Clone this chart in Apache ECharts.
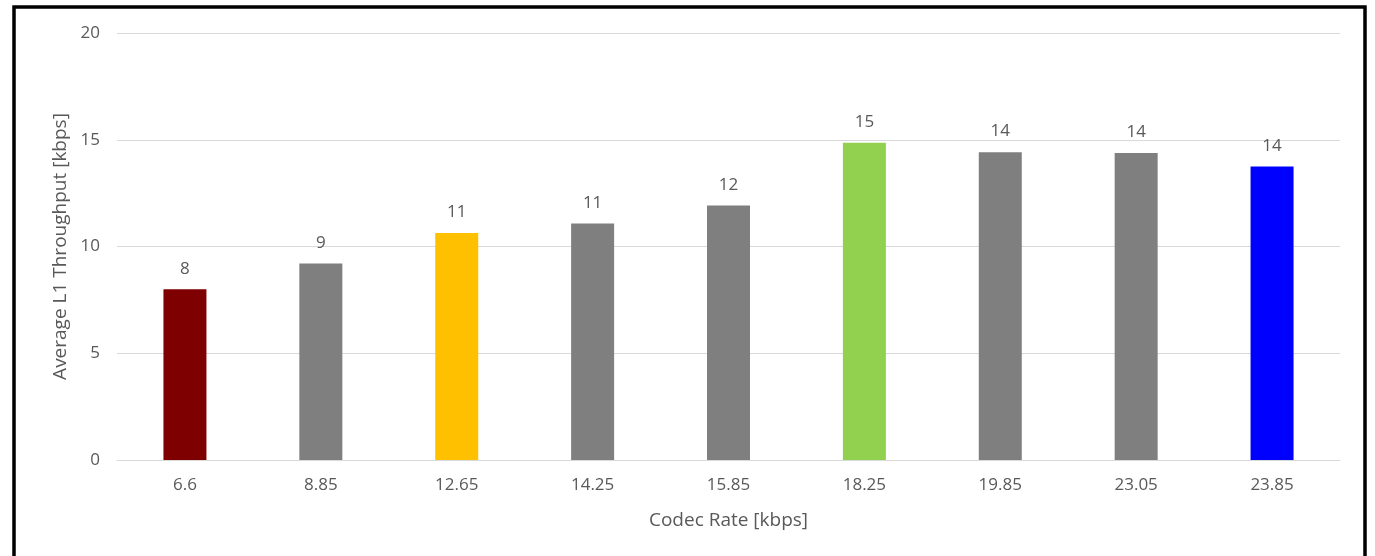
<!DOCTYPE html>
<html>
<head>
<meta charset="utf-8">
<style>
html,body{margin:0;padding:0;background:#fff;}
#chart{width:1375px;height:556px;}
</style>
<script src="https://cdn.jsdelivr.net/npm/echarts@6/dist/echarts.min.js"></script>
</head>
<body>
<div id="chart"></div>
<script>
const categories = ['6.6', '8.85', '12.65', '14.25', '15.85', '18.25', '19.85', '23.05', '23.85'];
const throughput = [8.0, 9.2, 10.63, 11.08, 11.92, 14.86, 14.42, 14.38, 13.75];
const barColors = ['#7F0000', '#7F7F7F', '#FFC000', '#7F7F7F', '#7F7F7F', '#92D050', '#7F7F7F', '#7F7F7F', '#0000FF'];
const yTicks = [0, 5, 10, 15, 20];

const chart = echarts.init(document.getElementById('chart'), null, {renderer: 'canvas'});
const font = '"Open Sans", "Noto Sans", sans-serif';
chart.setOption({
  animation: false,
  backgroundColor: '#fff',
  graphic: [{
    type: 'rect',
    shape: {x: 14, y: 7, width: 1351, height: 620},
    style: {fill: 'none', stroke: '#000', lineWidth: 3.5},
    z: 100
  }],
  grid: {left: 117, right: 35, top: 33, bottom: 96},
  xAxis: {
    type: 'category',
    data: categories,
    name: 'Codec Rate [kbps]',
    nameLocation: 'middle',
    nameGap: 51,
    nameTextStyle: {color: '#595959', fontSize: 19, fontFamily: font},
    axisLine: {show: true, lineStyle: {color: '#D9D9D9', width: 1}},
    axisTick: {show: false},
    axisLabel: {color: '#595959', fontSize: 17, fontFamily: font, margin: 17}
  },
  yAxis: {
    type: 'value',
    min: yTicks[0],
    max: yTicks[yTicks.length - 1],
    interval: 5,
    name: 'Average L1 Throughput [kbps]',
    nameLocation: 'middle',
    nameGap: 45,
    nameTextStyle: {color: '#595959', fontSize: 19, fontFamily: font},
    axisLine: {show: false},
    axisTick: {show: false},
    axisLabel: {color: '#595959', fontSize: 17, fontFamily: font, margin: 17},
    splitLine: {lineStyle: {color: '#D9D9D9', width: 1}}
  },
  series: [{
    type: 'bar',
    barWidth: 43,
    data: throughput.map((v, i) => ({value: v, itemStyle: {color: barColors[i]}})),
    label: {
      show: true,
      position: 'top',
      distance: 12,
      color: '#595959',
      fontSize: 17,
      fontFamily: font,
      formatter: p => Math.round(p.value)
    }
  }]
});
</script>
</body>
</html>
